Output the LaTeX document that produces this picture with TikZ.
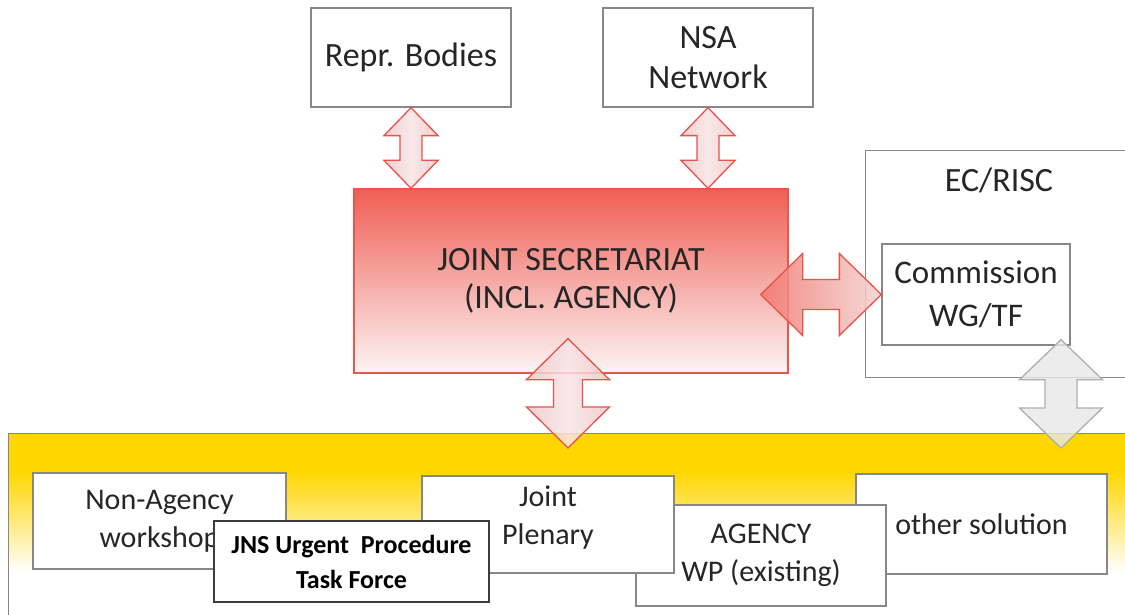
\documentclass[tikz,border=0pt]{standalone}
\usepackage{fontspec}
\setmainfont{Carlito}
\usetikzlibrary{calc}
\definecolor{boxgray}{RGB}{135,135,135}
\definecolor{textc}{RGB}{38,38,38}
\definecolor{jsred}{RGB}{240,95,85}
\definecolor{jsmid}{RGB}{246,182,172}
\definecolor{jsbot}{RGB}{252,244,244}
\definecolor{jsborder}{RGB}{232,86,78}
\definecolor{arrred}{RGB}{230,84,76}
\definecolor{arrpink}{RGB}{242,200,200}
\definecolor{arrlight}{RGB}{248,228,230}
\definecolor{bandyellow}{RGB}{255,214,0}
\definecolor{grayarrfill}{RGB}{232,232,232}
\definecolor{grayarrdraw}{RGB}{175,175,175}
\pgfdeclareverticalshading{bandshade}{100bp}{color(0bp)=(white); color(38bp)=(white); color(65bp)=(bandyellow); color(100bp)=(bandyellow)}
\newcommand{\VDArrow}[6]{%
 \path[#1] let \p1=(#2), \p2=(#3) in
 (\x1,\y1) -- (\x1+#4pt,\y1-#6pt) -- (\x1+#5pt,\y1-#6pt) -- (\x1+#5pt,\y2+#6pt) -- (\x1+#4pt,\y2+#6pt) -- (\x1,\y2) -- (\x1-#4pt,\y2+#6pt) -- (\x1-#5pt,\y2+#6pt) -- (\x1-#5pt,\y1-#6pt) -- (\x1-#4pt,\y1-#6pt) -- cycle;}
\newcommand{\HDArrow}[6]{%
 \path[#1] let \p1=(#2), \p2=(#3) in
 (\x1,\y1) -- (\x1+#6pt,\y1+#4pt) -- (\x1+#6pt,\y1+#5pt) -- (\x2-#6pt,\y1+#5pt) -- (\x2-#6pt,\y1+#4pt) -- (\x2,\y1) -- (\x2-#6pt,\y1-#4pt) -- (\x2-#6pt,\y1-#5pt) -- (\x1+#6pt,\y1-#5pt) -- (\x1+#6pt,\y1-#4pt) -- cycle;}
\tikzset{
  box/.style={draw=boxgray, line width=1.3pt, fill=white, inner sep=0pt, align=center, text=textc},
  topfont/.style={font=\fontsize{34}{40}\selectfont},
  botfont/.style={font=\fontsize{30}{38}\selectfont},
  redarrow/.style={draw=arrred, line width=1.3pt, left color=arrpink, right color=arrpink, middle color=arrlight, fill opacity=0.85},
  harrow/.style={draw=arrred, line width=1.3pt, left color=jsred!85, right color=arrpink!80!white, fill opacity=0.85},
  grayarrow/.style={draw=grayarrdraw, line width=1.3pt, fill=grayarrfill, fill opacity=0.8},
}
\begin{document}
\begin{tikzpicture}[x=1pt,y=-1pt]
\clip (0,0) rectangle (1125,615);
\fill[white] (0,0) rectangle (1125,615);
% yellow band
\node[draw=boxgray, line width=1.3pt, shading=bandshade, minimum width=1127pt, minimum height=187pt, inner sep=0pt, anchor=north west] (band) at (8,433) {};
% bottom boxes
\node[box, botfont, minimum width=251pt, minimum height=100pt] (other) at (981.5,524) {other solution};
\node[box, botfont, minimum width=250pt, minimum height=101pt] (agency) at (761,555.5) {AGENCY\\WP (existing)};
\node[box, minimum width=252pt, minimum height=97pt] (joint) at (548,524.5) {};
\node[botfont, text=textc, align=center, inner sep=0pt] (jointtext) at ([yshift=7pt]joint.center) {Joint\\Plenary};
\node[box, botfont, minimum width=253pt, minimum height=96pt] (nonag) at (159.5,521) {Non-Agency\\workshop};
\node[box, draw=textc!90, font=\fontsize{26}{35}\bfseries\selectfont, minimum width=275pt, minimum height=81pt, text=black] (jns) at (351.5,561.5) {JNS Urgent\ \ Procedure\\Task Force};
% top boxes
\node[box, topfont, minimum width=200pt, minimum height=99pt] (repr) at (411,57.5) {Repr. Bodies};
\node[box, topfont, minimum width=210pt, minimum height=99pt] (nsa) at (708,57.5) {NSA\\Network};
\node[draw=jsborder, line width=1.3pt, top color=jsred, middle color=jsmid, bottom color=jsbot, inner sep=0pt, align=center, text=textc, font=\fontsize{34}{38}\selectfont, minimum width=434pt, minimum height=184pt] (js) at (571,281) {JOINT SECRETARIAT\\(INCL. AGENCY)};
\node[draw=boxgray, line width=1.3pt, fill=white, inner sep=0pt, minimum width=270pt, minimum height=227pt, anchor=north west] (ec) at (865,150) {};
\node[text=textc, topfont, inner sep=0pt] (eclabel) at (999,180) {EC/RISC};
\node[box, font=\fontsize{33}{43}\selectfont, minimum width=188pt, minimum height=101pt] (comm) at (976,294.5) {Commission\\WG/TF};
% arrows
\VDArrow{redarrow}{repr.south}{repr.south |- js.north}{27}{11}{28}
\VDArrow{redarrow}{nsa.south}{nsa.south |- js.north}{27}{11}{28}
\VDArrow{redarrow}{$(js.south)+(-3,-35)$}{$(js.south |- band.north)+(-3,15)$}{41.5}{14.5}{41}
\HDArrow{harrow}{$(js.east |- comm.west)+(-28,0)$}{comm.west}{41}{15}{42}
\VDArrow{grayarrow}{$(comm.south)+(85,-6)$}{$(comm.south |- band.north)+(85,15)$}{41.5}{16}{40}
\end{tikzpicture}
\end{document}
